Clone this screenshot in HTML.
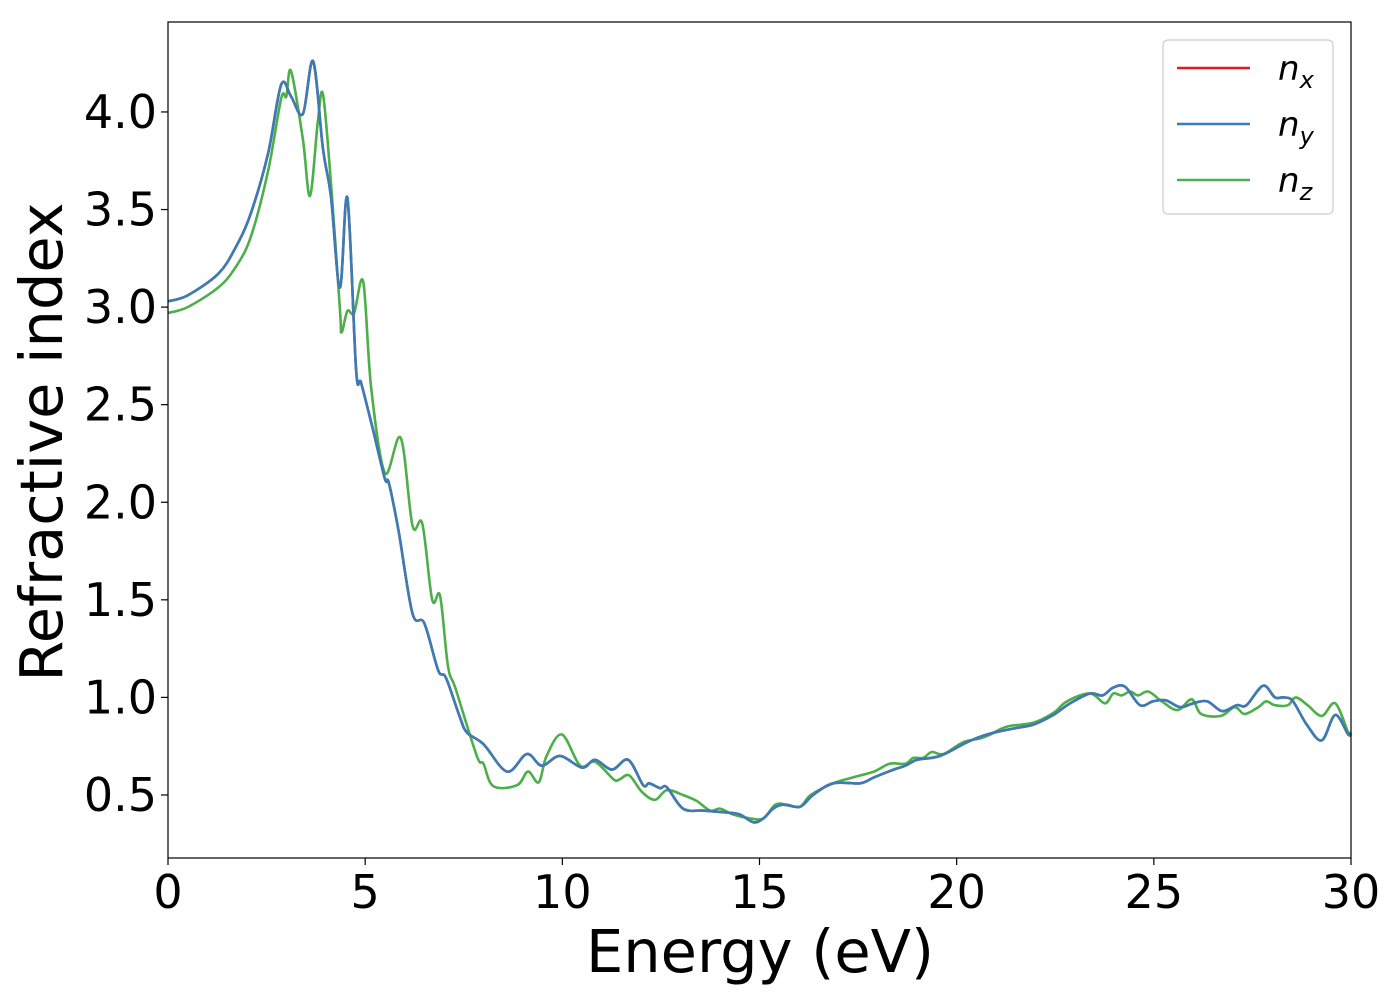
<!DOCTYPE html>
<html><head><meta charset="utf-8"><style>
body{margin:0;background:#fff}
svg text{font-family:"DejaVu Sans","Liberation Sans",sans-serif;fill:#000}
</style></head><body>
<svg width="1400" height="1000" viewBox="0 0 1400 1000">
<rect x="0" y="0" width="1400" height="1000" fill="#fff"/>
<g id="series"></g>
<rect x="168" y="22" width="1183" height="836" fill="none" stroke="#000" stroke-width="1.2"/>
<g id="axes"></g>
<text x="760" y="972" font-size="59" text-anchor="middle">Energy (eV)</text>
<text transform="translate(62,442) rotate(-90)" font-size="59" text-anchor="middle">Refractive index</text>
<g>
<rect x="1163" y="40" width="170" height="174" rx="5" fill="#fff" stroke="#ccc" stroke-width="1.2"/>
<line x1="1177" y1="68" x2="1250" y2="68" stroke="#e41a1c" stroke-width="2.5"/>
<text x="1278" y="80" font-size="34" font-style="italic">n<tspan font-size="24" dy="8">x</tspan></text>
<line x1="1177" y1="124" x2="1250" y2="124" stroke="#377eb8" stroke-width="2.5"/>
<text x="1278" y="136" font-size="34" font-style="italic">n<tspan font-size="24" dy="8">y</tspan></text>
<line x1="1177" y1="180" x2="1250" y2="180" stroke="#4daf4a" stroke-width="2.5"/>
<text x="1278" y="192" font-size="34" font-style="italic">n<tspan font-size="24" dy="8">z</tspan></text>
</g>
</svg>
<script>
const xTicks=[0,5,10,15,20,25,30];
const yTicks=[0.5,1.0,1.5,2.0,2.5,3.0,3.5,4.0];
const yTickLabels=["0.5","1.0","1.5","2.0","2.5","3.0","3.5","4.0"];
const nyE=[0,0.5,1.27,1.7,2.1,2.54,2.87,3.12,3.42,3.68,3.93,4.13,4.36,4.55,4.77,4.9,5.2,5.5,5.6,5.85,6.2,6.5,6.85,7.05,7.4,7.58,8.0,8.6,9.1,9.48,9.94,10.5,10.83,11.26,11.67,12.05,12.2,12.48,12.65,13.06,13.57,14.18,14.5,14.85,15.1,15.35,15.6,16.03,16.36,16.87,17.55,17.9,18.4,18.7,19.0,19.58,20.26,20.77,21.43,21.94,22.45,22.88,23.38,23.7,23.97,24.27,24.65,24.98,25.3,25.67,26.0,26.35,26.73,27.1,27.35,27.77,28.07,28.3,28.53,28.88,29.26,29.6,29.93,30];
const nyVals=[3.03,3.06,3.17,3.3,3.48,3.79,4.14,4.08,3.99,4.26,3.81,3.57,3.1,3.56,2.68,2.61,2.37,2.12,2.1,1.85,1.43,1.38,1.14,1.1,0.9,0.82,0.76,0.62,0.71,0.65,0.7,0.64,0.68,0.63,0.68,0.55,0.56,0.535,0.54,0.43,0.42,0.41,0.4,0.36,0.38,0.43,0.45,0.44,0.5,0.56,0.56,0.59,0.63,0.65,0.68,0.7,0.77,0.81,0.84,0.86,0.91,0.97,1.02,1.01,1.05,1.055,0.96,0.98,0.985,0.95,0.97,0.98,0.93,0.96,0.96,1.06,1.0,1.0,0.98,0.86,0.78,0.91,0.81,0.82];
const nxE=nyE;
const nxVals=nyVals;
const nzE=[0,0.5,1.27,1.7,2.1,2.54,2.87,3.0,3.12,3.42,3.6,3.8,3.93,4.13,4.36,4.4,4.55,4.72,4.95,5.15,5.5,5.9,6.2,6.45,6.7,6.9,7.1,7.3,7.83,8.0,8.25,8.85,9.13,9.4,9.6,9.99,10.45,10.83,11.3,11.45,11.7,12.02,12.35,12.65,13.06,13.4,13.75,14.0,14.33,14.76,15.1,15.4,15.7,16.03,16.3,16.87,17.37,17.9,18.3,18.7,18.9,19.15,19.37,19.67,20.16,20.6,20.85,21.27,21.94,22.45,22.8,23.38,23.76,23.97,24.18,24.4,24.6,24.86,25.2,25.6,25.96,26.2,26.7,27.05,27.3,27.65,27.85,28.07,28.4,28.6,28.9,29.26,29.6,29.93,30];
const nzVals=[2.97,3.0,3.1,3.2,3.36,3.7,4.07,4.08,4.21,3.86,3.57,3.95,4.09,3.64,2.99,2.87,2.98,2.97,3.13,2.59,2.15,2.33,1.88,1.89,1.5,1.52,1.16,1.04,0.7,0.66,0.545,0.55,0.62,0.565,0.7,0.81,0.65,0.67,0.58,0.58,0.6,0.515,0.475,0.525,0.5,0.47,0.42,0.43,0.4,0.38,0.38,0.45,0.45,0.44,0.5,0.56,0.59,0.62,0.66,0.66,0.69,0.69,0.72,0.71,0.77,0.79,0.81,0.85,0.87,0.92,0.98,1.02,0.97,1.02,1.01,1.03,1.01,1.03,0.98,0.935,0.99,0.915,0.905,0.95,0.915,0.95,0.98,0.96,0.96,1.0,0.96,0.905,0.97,0.82,0.81];

const X0=168,X1=1351,Y0=858,Y1=22,XMIN=0,XMAX=30,YMIN=0.177,YMAX=4.461;
function sx(v){return X0+(v-XMIN)/(XMAX-XMIN)*(X1-X0);}
function sy(v){return Y0-(v-YMIN)/(YMAX-YMIN)*(Y0-Y1);}
const NS="http://www.w3.org/2000/svg";
function smoothPath(es,vs){
  const p=es.map((e,i)=>[sx(e),sy(vs[i])]);
  let d="M"+p[0][0].toFixed(1)+","+p[0][1].toFixed(1);
  for(let i=0;i<p.length-1;i++){
    const a=p[Math.max(i-1,0)],b=p[i],c=p[i+1],e=p[Math.min(i+2,p.length-1)];
    const c1=[b[0]+(c[0]-a[0])/6,b[1]+(c[1]-a[1])/6],c2=[c[0]-(e[0]-b[0])/6,c[1]-(e[1]-b[1])/6];
    d+="C"+c1[0].toFixed(1)+","+c1[1].toFixed(1)+" "+c2[0].toFixed(1)+","+c2[1].toFixed(1)+" "+c[0].toFixed(1)+","+c[1].toFixed(1);
  }
  return d;
}
const sg=document.getElementById('series');
function addLine(es,vs,color,name){
  const el=document.createElementNS(NS,'path');
  el.setAttribute('d',smoothPath(es,vs));
  el.setAttribute('fill','none');el.setAttribute('stroke',color);el.setAttribute('stroke-width','2.6');el.setAttribute('stroke-linejoin','round');
  
  
  sg.appendChild(el);
}
addLine(nzE,nzVals,'#4daf4a','series-nz');
addLine(nxE,nxVals,'#e41a1c','series-nx');
addLine(nyE,nyVals,'#377eb8','series-ny');
const ag=document.getElementById('axes');
xTicks.forEach(t=>{
  const l=document.createElementNS(NS,'line');
  l.setAttribute('x1',sx(t));l.setAttribute('x2',sx(t));l.setAttribute('y1',Y0);l.setAttribute('y2',Y0+7);l.setAttribute('stroke','#000');l.setAttribute('stroke-width','1.2');
  
  
  ag.appendChild(l);
  const tx=document.createElementNS(NS,'text');
  tx.setAttribute('x',sx(t));tx.setAttribute('y',908);tx.setAttribute('font-size','46');tx.setAttribute('text-anchor','middle');
  tx.textContent=String(t);
  
  
  ag.appendChild(tx);
});
yTicks.forEach((t,i)=>{
  const l=document.createElementNS(NS,'line');
  l.setAttribute('x1',X0-7);l.setAttribute('x2',X0);l.setAttribute('y1',sy(t));l.setAttribute('y2',sy(t));l.setAttribute('stroke','#000');l.setAttribute('stroke-width','1.2');
  
  
  ag.appendChild(l);
  const tx=document.createElementNS(NS,'text');
  tx.setAttribute('x',157);tx.setAttribute('y',sy(t)+16);tx.setAttribute('font-size','46');tx.setAttribute('text-anchor','end');
  tx.textContent=yTickLabels[i];
  
  
  ag.appendChild(tx);
});
</script>
</body></html>
